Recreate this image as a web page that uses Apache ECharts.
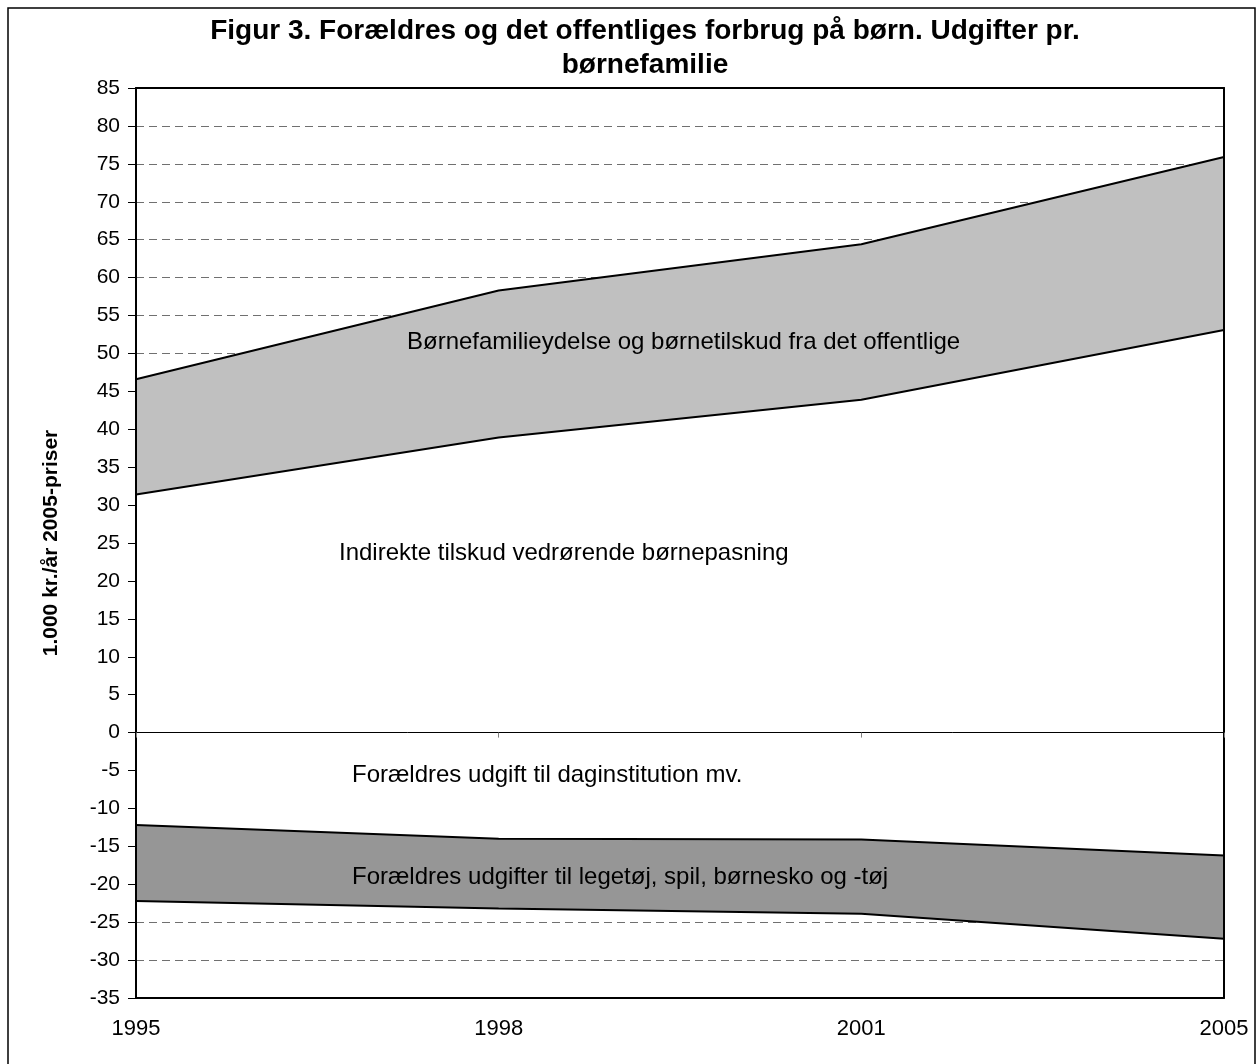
<!DOCTYPE html>
<html>
<head>
<meta charset="utf-8">
<script src="https://cdn.jsdelivr.net/npm/echarts@6/dist/echarts.min.js"></script>
<style>
html,body{margin:0;padding:0;background:#fff;}
#chart{width:1258px;height:1064px;}
</style>
</head>
<body>
<div id="chart"></div>
<script>
// ---- data ----
const years = ['1995', '1998', '2001', '2005'];
// top edge of the white "indirekte tilskud" area (= lower edge of light band)
const indirekteTilskud = [31.4, 38.9, 43.9, 53.1];
// top edge of light grey band (børnefamilieydelse og børnetilskud)
const offentligeTotal = [46.6, 58.3, 64.4, 75.9];
// lower edge of white "daginstitution" area (= top of dark band)
const daginstitution = [-12.2, -14.0, -14.1, -16.2];
// lower edge of dark grey band (legetøj, spil, børnesko og -tøj)
const foraeldreTotal = [-22.2, -23.2, -23.9, -27.2];

const yTicks = { min: -35, max: 85, interval: 5 };

const titleLines = ['Figur 3. Forældres og det offentliges forbrug på børn. Udgifter pr.', 'børnefamilie'];
const yName = '1.000 kr./år 2005-priser';
const labels = {
  ydelse: 'Børnefamilieydelse og børnetilskud fra det offentlige',
  indirekte: 'Indirekte tilskud vedrørende børnepasning',
  daginst: 'Forældres udgift til daginstitution mv.',
  legetoej: 'Forældres udgifter til legetøj, spil, børnesko og -tøj'
};

// derived stacked thicknesses
const ydelseBand = offentligeTotal.map((v, i) => +(v - indirekteTilskud[i]).toFixed(2));
const legetoejBand = foraeldreTotal.map((v, i) => +(v - daginstitution[i]).toFixed(2));

const FONT = '"Liberation Sans", Arial, sans-serif';
const chart = echarts.init(document.getElementById('chart'));

const lineBase = {
  type: 'line', symbol: 'none', smooth: false,
  xAxisIndex: 0, yAxisIndex: 0,
  lineStyle: { color: '#000', width: 2 },
  itemStyle: { color: '#000' }
};

function annot(text, x, y) {
  return {
    type: 'text', x: x, y: y, z: 100,
    style: { text: text, fill: '#000', font: '24px ' + FONT, textAlign: 'left', textVerticalAlign: 'middle' }
  };
}

chart.setOption({
  animation: false,
  backgroundColor: '#fff',
  grid: { left: 136, right: 34, top: 88, bottom: 66, containLabel: false },
  xAxis: [
    {
      type: 'category', data: years, boundaryGap: false, position: 'bottom',
      axisLine: { onZero: false, lineStyle: { color: '#000', width: 2 } },
      axisTick: { show: false },
      axisLabel: { fontSize: 22, color: '#000', margin: 20, fontFamily: FONT },
      splitLine: { show: false }, z: 5
    },
    {
      type: 'category', data: years, boundaryGap: false, position: 'bottom',
      axisLine: { onZero: true, lineStyle: { color: '#000', width: 1 } },
      axisTick: { show: true, length: 5, lineStyle: { color: '#808080' } },
      axisLabel: { show: false }, splitLine: { show: false }, z: 5
    },
    {
      type: 'category', data: years, boundaryGap: false, position: 'top',
      axisLine: { onZero: false, lineStyle: { color: '#000', width: 2 } },
      axisTick: { show: false }, axisLabel: { show: false }, splitLine: { show: false }, z: 5
    }
  ],
  yAxis: [
    {
      type: 'value', min: yTicks.min, max: yTicks.max, interval: yTicks.interval, position: 'left',
      axisLine: { show: false }, axisTick: { show: false }, axisLabel: { show: false },
      splitLine: { show: true, lineStyle: { color: '#707070', type: [8, 5], width: 1 } }
    },
    {
      type: 'value', min: yTicks.min, max: yTicks.max, interval: yTicks.interval, position: 'left',
      axisLine: { show: true, onZero: false, lineStyle: { color: '#000', width: 2 } },
      axisTick: { show: true, length: 8, lineStyle: { color: '#000' } },
      axisLabel: { fontSize: 21, color: '#000', margin: 16, fontFamily: FONT },
      splitLine: { show: false },
      name: yName, nameLocation: 'middle', nameGap: 74,
      nameTextStyle: { fontSize: 21, fontWeight: 'bold', color: '#000', fontFamily: FONT },
      z: 5
    },
    {
      type: 'value', min: yTicks.min, max: yTicks.max, interval: yTicks.interval, position: 'right',
      axisLine: { show: true, onZero: false, lineStyle: { color: '#000', width: 2 } },
      axisTick: { show: false }, axisLabel: { show: false }, splitLine: { show: false }, z: 5
    }
  ],
  series: [
    Object.assign({}, lineBase, { name: labels.indirekte, stack: 'pos', data: indirekteTilskud, areaStyle: { color: '#ffffff', opacity: 1 } }),
    Object.assign({}, lineBase, { name: labels.ydelse, stack: 'pos', data: ydelseBand, areaStyle: { color: '#C0C0C0', opacity: 1 } }),
    Object.assign({}, lineBase, { name: labels.daginst, stack: 'neg', data: daginstitution, areaStyle: { color: '#ffffff', opacity: 1 } }),
    Object.assign({}, lineBase, { name: labels.legetoej, stack: 'neg', data: legetoejBand, areaStyle: { color: '#969696', opacity: 1 } })
  ],
  graphic: [
    { type: 'rect', z: 100, shape: { x: 8, y: 8, width: 1247, height: 1080 }, style: { fill: null, stroke: '#000', lineWidth: 1.5 } },
    { type: 'text', x: 645, y: 31, z: 100, style: { text: titleLines[0], fill: '#000', font: 'bold 28px ' + FONT, textAlign: 'center', textVerticalAlign: 'middle' } },
    { type: 'text', x: 645, y: 65, z: 100, style: { text: titleLines[1], fill: '#000', font: 'bold 28px ' + FONT, textAlign: 'center', textVerticalAlign: 'middle' } },
    annot(labels.ydelse, 407, 342),
    annot(labels.indirekte, 339, 553),
    annot(labels.daginst, 352, 775),
    annot(labels.legetoej, 352, 877)
  ]
});
</script>
</body>
</html>
